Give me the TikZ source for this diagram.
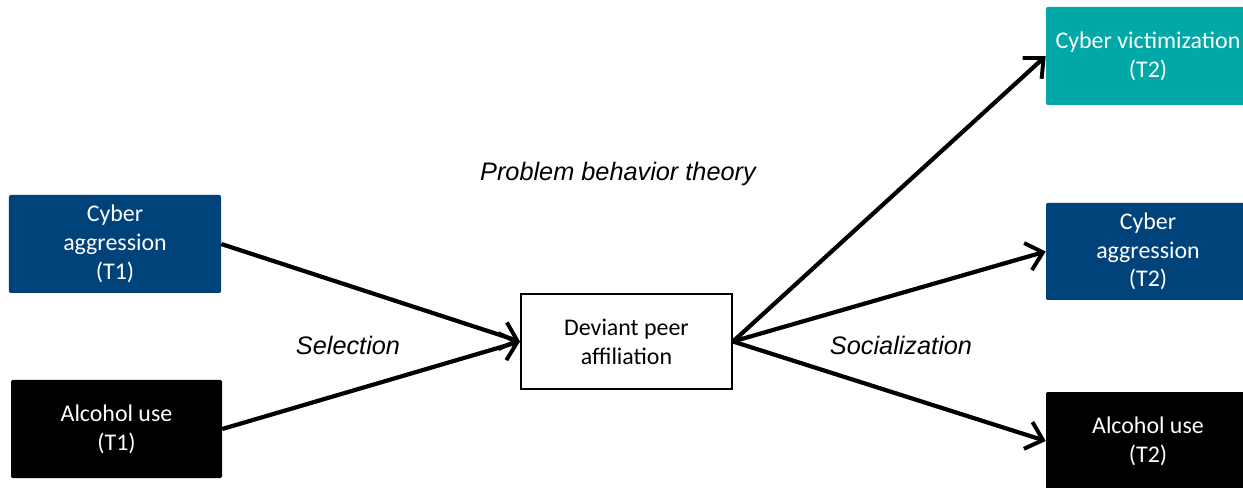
\documentclass[tikz,border=0pt]{standalone}
\usepackage{fontspec}
\setmainfont{Carlito}
\newfontfamily\labelfont{Liberation Sans}
\usetikzlibrary{arrows.meta}
\definecolor{cbblue}{HTML}{00427A}
\definecolor{cbteal}{HTML}{00A8A8}
\definecolor{cbblack}{HTML}{000000}

\begin{document}
\begin{tikzpicture}[
  varbox/.style={rectangle, rounded corners=1pt, fill=#1, text=white, minimum width=5.3cm, minimum height=2.45cm, inner sep=0pt, align=center, font=\fontsize{17}{20.5}\selectfont},
  midbox/.style={rectangle, draw=black, line width=1.4pt, fill=white, minimum width=5.275cm, minimum height=2.375cm, inner sep=0pt, align=center, font=\fontsize{17}{20.5}\selectfont},
  pathlabel/.style={font=\labelfont\itshape\fontsize{18}{21}\selectfont},
  link/.style={-{Straight Barb[length=11pt, width=20pt, line width=2.8pt]}, line width=3pt, black},
]
\clip (0,0) rectangle (31.075,12.175);

% Time 1 predictors
\node[varbox=cbblue] (agg1) at (2.875, 6.075) {Cyber\\aggression\\(T1)};
\node[varbox=cbblack, minimum width=5.275cm] (alc1) at (2.9125, 1.45) {Alcohol use\\(T1)};

% Mediator
\node[midbox] (peer) at (15.6625, 3.6375) {Deviant peer\\affiliation};

% Time 2 outcomes
\node[varbox=cbteal, minimum width=5.1cm] (vic2) at (28.7, 10.775) {Cyber victimization\\(T2)};
\node[varbox=cbblue, minimum width=5.1cm, minimum height=2.425cm] (agg2) at (28.7, 5.8875) {Cyber\\aggression\\(T2)};
\node[varbox=cbblack, minimum width=5.1cm] (alc2) at (28.7, 1.15) {Alcohol use\\(T2)};

% Paths
\draw[link] (agg1.east) -- (peer.west);
\draw[link] (alc1.east) -- (peer.west);
\draw[link] (peer.east) -- (vic2.west);
\draw[link] (peer.east) -- (agg2.west);
\draw[link] (peer.east) -- (alc2.west);

% Labels
\node[pathlabel] (theory) at (15.45, 7.825) {Problem behavior theory};
\node[pathlabel] (sel) at (8.7, 3.55) {Selection};
\node[pathlabel] (soc) at (22.525, 3.55) {Socialization};

\end{tikzpicture}
\end{document}
